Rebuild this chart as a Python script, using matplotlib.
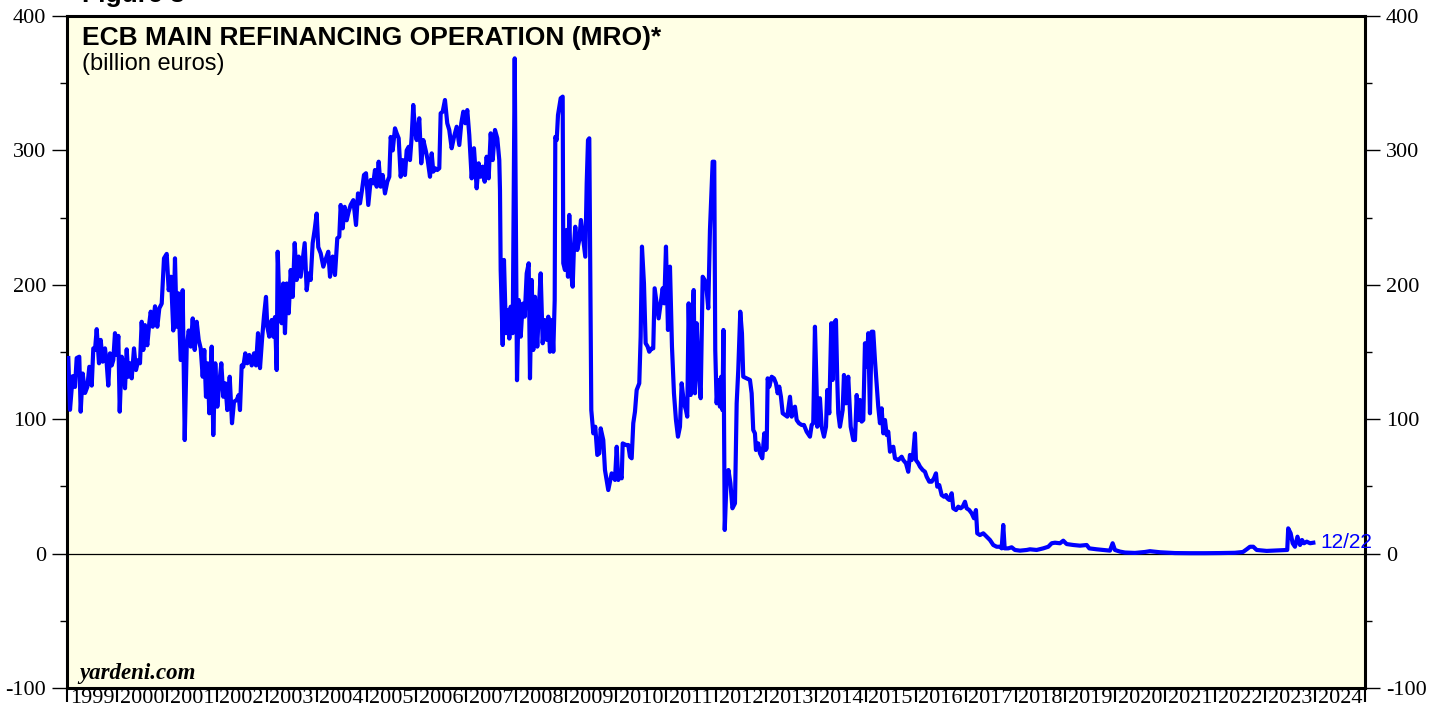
import matplotlib
matplotlib.use("Agg")
import matplotlib.pyplot as plt
from matplotlib.ticker import FixedLocator, NullFormatter, FixedFormatter

plt.rcParams["axes.unicode_minus"] = False

# ---- data (decimal year, billion euros) ----
dates = [
1999.026,1999.060,1999.114,1999.160,1999.194,1999.246,1999.274,1999.314,1999.361,1999.407,
1999.447,1999.495,1999.527,1999.561,1999.595,1999.641,1999.675,1999.715,1999.761,1999.795,
1999.827,1999.861,1999.895,1999.927,1999.961,1999.995,2000.028,2000.056,2000.096,2000.128,
2000.162,2000.196,2000.228,2000.262,2000.296,2000.342,2000.382,2000.428,2000.462,2000.496,
2000.528,2000.562,2000.608,2000.648,2000.677,2000.717,2000.763,2000.809,2000.849,2000.897,
2000.943,2000.997,2001.037,2001.083,2001.129,2001.163,2001.197,2001.229,2001.277,2001.317,
2001.358,2001.398,2001.438,2001.478,2001.518,2001.558,2001.598,2001.638,2001.678,2001.718,
2001.750,2001.784,2001.818,2001.850,2001.898,2001.930,2001.970,2002.011,2002.051,2002.091,
2002.131,2002.171,2002.211,2002.259,2002.305,2002.345,2002.399,2002.439,2002.465,2002.499,
2002.531,2002.571,2002.611,2002.651,2002.700,2002.746,2002.786,2002.826,2002.866,2002.906,
2002.946,2002.986,2003.012,2003.052,2003.100,2003.132,2003.166,2003.200,2003.220,2003.266,
2003.300,2003.332,2003.366,2003.401,2003.441,2003.481,2003.521,2003.561,2003.601,2003.641,
2003.681,2003.721,2003.761,2003.801,2003.841,2003.881,2003.921,2003.961,2004.001,2004.033,
2004.082,2004.134,2004.188,2004.234,2004.268,2004.322,2004.368,2004.414,2004.454,2004.482,
2004.522,2004.562,2004.602,2004.642,2004.682,2004.735,2004.789,2004.829,2004.869,2004.909,
2004.949,2004.989,2005.035,2005.083,2005.135,2005.169,2005.203,2005.243,2005.283,2005.323,
2005.369,2005.416,2005.456,2005.484,2005.524,2005.570,2005.604,2005.644,2005.684,2005.724,
2005.770,2005.804,2005.844,2005.870,2005.904,2005.936,2005.970,2006.004,2006.056,2006.096,
2006.137,2006.185,2006.225,2006.271,2006.305,2006.337,2006.377,2006.417,2006.457,2006.485,
2006.525,2006.571,2006.617,2006.657,2006.705,2006.752,2006.806,2006.858,2006.898,2006.938,
2006.978,2007.018,2007.058,2007.106,2007.152,2007.206,2007.246,2007.286,2007.326,2007.366,
2007.406,2007.446,2007.487,2007.527,2007.573,2007.619,2007.659,2007.673,2007.687,2007.727,
2007.753,2007.793,2007.833,2007.860,2007.888,2007.928,2007.968,2008.014,2008.048,2008.088,
2008.128,2008.168,2008.208,2008.248,2008.274,2008.308,2008.340,2008.374,2008.420,2008.460,
2008.488,2008.528,2008.568,2008.609,2008.641,2008.674,2008.715,2008.741,2008.769,2008.781,
2008.809,2008.835,2008.861,2008.889,2008.929,2008.941,2008.975,2009.009,2009.035,2009.061,
2009.089,2009.129,2009.155,2009.181,2009.221,2009.261,2009.295,2009.342,2009.382,2009.410,
2009.436,2009.462,2009.502,2009.542,2009.582,2009.622,2009.662,2009.690,2009.742,2009.776,
2009.842,2009.910,2009.976,2010.011,2010.043,2010.077,2010.111,2010.131,2010.197,2010.243,
2010.277,2010.311,2010.343,2010.377,2010.411,2010.463,2010.491,2010.517,2010.557,2010.591,
2010.631,2010.663,2010.711,2010.743,2010.771,2010.811,2010.851,2010.892,2010.932,2010.964,
2010.998,2011.038,2011.078,2011.118,2011.158,2011.198,2011.238,2011.278,2011.312,2011.358,
2011.398,2011.424,2011.452,2011.492,2011.519,2011.553,2011.579,2011.613,2011.645,2011.693,
2011.733,2011.773,2011.813,2011.845,2011.879,2011.905,2011.933,2011.965,2011.985,2012.013,
2012.045,2012.079,2012.105,2012.129,2012.149,2012.175,2012.209,2012.249,2012.289,2012.329,
2012.380,2012.414,2012.446,2012.486,2012.520,2012.546,2012.614,2012.680,2012.714,2012.746,
2012.780,2012.800,2012.847,2012.881,2012.927,2012.967,2012.995,2013.015,2013.035,2013.067,
2013.115,2013.161,2013.201,2013.235,2013.267,2013.301,2013.336,2013.382,2013.428,2013.482,
2013.516,2013.548,2013.582,2013.616,2013.662,2013.716,2013.762,2013.816,2013.882,2013.916,
2013.948,2013.982,2014.016,2014.028,2014.082,2014.116,2014.163,2014.203,2014.229,2014.269,
2014.309,2014.337,2014.363,2014.403,2014.429,2014.449,2014.483,2014.537,2014.563,2014.603,
2014.649,2014.698,2014.750,2014.784,2014.818,2014.850,2014.884,2014.918,2014.950,2014.984,
2015.018,2015.050,2015.084,2015.118,2015.150,2015.184,2015.218,2015.250,2015.284,2015.318,
2015.351,2015.385,2015.419,2015.451,2015.485,2015.519,2015.551,2015.585,2015.651,2015.719,
2015.751,2015.805,2015.851,2015.885,2015.919,2015.951,2015.985,2016.005,2016.052,2016.086,
2016.140,2016.186,2016.220,2016.272,2016.320,2016.366,2016.406,2016.432,2016.472,2016.520,
2016.567,2016.607,2016.633,2016.673,2016.721,2016.753,2016.807,2016.853,2016.901,2016.941,
2016.987,2017.021,2017.073,2017.121,2017.167,2017.207,2017.233,2017.287,2017.354,2017.422,
2017.488,2017.554,2017.622,2017.688,2017.722,2017.754,2017.782,2017.854,2017.922,2017.988,
2018.089,2018.223,2018.289,2018.423,2018.555,2018.656,2018.724,2018.790,2018.890,2018.956,
2019.024,2019.157,2019.291,2019.425,2019.477,2019.625,2019.757,2019.891,2019.945,2019.991,
2020.091,2020.192,2020.392,2020.592,2020.692,2020.892,2021.193,2021.493,2021.794,2022.095,
2022.395,2022.555,2022.630,2022.696,2022.762,2022.830,2023.030,2023.296,2023.442,2023.462,
2023.511,2023.551,2023.597,2023.647,2023.699,2023.739,2023.779,2023.833,2023.899,2023.965,
]
mro = [
145.5,107,132,124,145.5,146.5,105.6,134,119.5,124,
139,125,152.7,151.5,167,141.6,159,142.8,152.7,141.6,
125,149,140,144,164,147.8,162,105.6,146.5,141.6,
123,152,131.6,141.6,130.4,152.7,136.6,144,141.6,172.5,
151.5,170,155,171.4,180,168.8,184,168.8,182.5,186,
219.7,223,196,206,166,219.7,168.8,193.7,144,196,
84.5,154,166,154,175,151.5,172.5,159,152.7,131.6,
151.5,116.7,141.6,104.4,154,88.2,141.6,109.3,126.7,141.6,
116.7,126.7,106.8,131.6,97,113,114.3,118,106.8,140,
139,149,141.6,147.8,140,149,140,164,138,159,
176.8,191,168.8,161.4,173.8,161.4,176,136.6,224.6,176,
171.4,201,164,201,178.8,211,191,231,203.6,221,
206,218.5,231,196,208.5,203.6,231,241,253,228,
223.4,213.5,219.7,224.6,206,221,207.3,234.6,235.8,259.4,
242,258,248,254.4,259.4,263,244.5,268,260.6,270.5,
281.7,283,259.4,278,275.5,285.4,273,291.6,273,281.7,
268,276.7,280.4,310,300,316.4,312.7,309,280.4,292.8,
281.7,300,302.7,292.8,310,333.8,315.2,307.7,323.9,290.4,
307.7,300,292.8,280.4,297.8,284.2,286.7,285.4,286.7,327.6,
328.8,337.5,320.2,315.2,301.6,310,317.6,304,320.2,328.8,
320.2,330,311.4,279.2,301.6,271.8,290.4,280.4,287.9,276.7,
295.3,279.2,312.7,292.8,315.2,309,292.8,270.5,211,155.2,
218.5,164,181,160,183.7,164,368.5,129,188.7,161.4,
186,176.3,208.5,216,130.4,203.6,151.5,191.1,154,188.7,
208.5,156.5,173.8,159,176.3,150.2,173.8,150.2,188.7,310,
307.7,326.3,332.5,338.8,340,216,211,240.8,206,252,
211,198.6,228.4,243.2,225.9,233.3,248.2,233.3,220.9,275.5,
307.7,309,106.8,89.5,94.4,73.4,74.6,93.2,84.5,62.2,
47.3,59.7,54.8,79.5,54.8,58.5,56,82,80.8,80.8,
72.1,70.9,97,105.6,121.7,126.7,161.4,228.4,201,156.5,
154,150.2,152.7,152.7,197.4,186.2,175,186.2,197.4,186.2,
228.4,166.4,213.5,154,119.3,99.4,87,94.4,126.7,111.8,
106.8,101.9,186.2,118,171.4,196.1,119.3,171.4,141.6,115.6,
206,203.6,196.1,182.5,240.8,265.6,291.6,291.6,151.5,111.8,
129.2,109.3,131.6,106.8,166.4,17.6,52.3,62.2,52.3,33.7,
37.4,111.8,136.6,180,163.9,131.6,130.4,129.2,119.3,92,
89.5,77.1,82,74.6,70.9,89.5,77.1,78.3,130.4,124.2,
131.6,130.4,126.7,119.3,124.2,116.7,104.4,103.1,101.9,116.7,
101.9,108.1,109.3,99.4,97,95.7,95.7,90.7,87,95.7,
97,168.8,121.7,94.4,115.6,94.4,87,94.4,121.7,104.4,
171.4,129.2,171.4,173.8,129.2,104.4,94.4,106.8,132.9,111.8,
131.6,94.4,84.5,84.5,118,99.4,114.3,98.2,99.4,156.5,
139.1,164,104.4,165.1,165.1,144,126.7,109.3,97,108.1,
89.5,99.4,88.2,90.7,75.8,78.3,79.5,70.9,69.6,72.1,
69.6,67.2,60.9,73.4,69.6,74.6,89.5,69.6,67.2,64.7,
62.2,60.9,57.2,53.5,53.5,56,59.7,49.8,51,43.6,
42.3,43.6,41.1,39.9,44.9,33.7,32.4,34.9,33.7,34.9,
38.6,33.7,32.4,30,26.3,32.4,15.1,13.8,15.1,12.6,
10.1,6.4,5.1,5.1,3.9,21.3,3.9,3.9,4.7,2.7,
2.2,2.7,3.2,2.7,3.9,5.1,7.7,8.1,7.7,9.6,
7.1,6.4,5.9,6.4,3.9,3.2,2.7,2.2,7.7,2.7,
1.5,0.8,0.5,1.2,1.8,1.0,0.4,0.3,0.3,0.4,
0.6,1.2,3.2,5.1,5.1,2.7,2.0,2.5,2.7,18.8,
15.1,7.7,5.1,12.6,6.4,10.1,7.7,8.9,7.7,8.1,
]
years = list(range(1999, 2025))
year_labels = [str(y) for y in years]
y_major = [-100, 0, 100, 200, 300, 400]
y_minor = [-50, 50, 150, 250, 350]
last_label = "12/22"
title = "ECB MAIN REFINANCING OPERATION (MRO)*"
subtitle = "(billion euros)"

W, H = 1439, 717
fig = plt.figure(figsize=(W / 100, H / 100), dpi=100)
ax = fig.add_axes([67 / W, 1 - 688 / H, (1365 - 67) / W, (688 - 16) / H])
ax.set_facecolor("#FFFFE5")

ax.axhline(0, color="black", lw=0.9, zorder=1)
ax.plot(dates, mro, color="#0000FF", lw=3.0, solid_joinstyle="round", zorder=3)

ax.set_xlim(1999, 2025)
ax.set_ylim(-100, 400)

serif = ["Liberation Serif", "DejaVu Serif"]
sans = ["Liberation Sans", "DejaVu Sans"]

# x axis: ticks at year boundaries, labels centred in each year
ax.xaxis.set_major_locator(FixedLocator(list(range(1999, 2026))))
ax.xaxis.set_major_formatter(NullFormatter())
ax.xaxis.set_minor_locator(FixedLocator([y + 0.5 for y in years]))
ax.xaxis.set_minor_formatter(FixedFormatter(year_labels))
ax.tick_params(axis="x", which="major", direction="out", length=10, width=1.5, bottom=True, top=False)
ax.tick_params(axis="x", which="minor", length=0, pad=1.0, labelsize=16)
for lab in ax.get_xticklabels(minor=True):
    lab.set_family(serif)

# y axis: both sides
ax.yaxis.set_major_locator(FixedLocator(y_major))
ax.yaxis.set_minor_locator(FixedLocator(y_minor))
ax.tick_params(axis="y", which="major", direction="out", length=11, width=1.0,
               left=True, right=True, labelleft=True, labelright=True, labelsize=16, pad=4)
ax.tick_params(axis="y", which="minor", direction="out", length=5, width=1.0, left=True, right=True)
for t in ax.yaxis.get_major_ticks():
    t.label1.set_family(serif)
    t.label2.set_family(serif)

for s in ax.spines.values():
    s.set_linewidth(2.2)
    s.set_color("black")

# texts
ax.text(2024.1, 8, last_label, color="#0000FF", fontsize=15, ha="left", va="center", family=sans)
fig.text(82 / W, 1 - 45 / H, title, fontsize=19, fontweight="bold", ha="left", va="baseline", family=sans)
fig.text(82 / W, 1 - 70 / H, subtitle, fontsize=17, ha="left", va="baseline", family=sans)
fig.text(79 / W, 1 - 679 / H, "yardeni.com", fontsize=16.5, fontweight="bold", fontstyle="italic",
         ha="left", va="baseline", family=serif)
fig.text(82 / W, 1 - 2 / H, "Figure 3", fontsize=19, fontweight="bold", ha="left", va="baseline", family=sans)

fig.savefig("out.png", dpi=100, facecolor="white")
